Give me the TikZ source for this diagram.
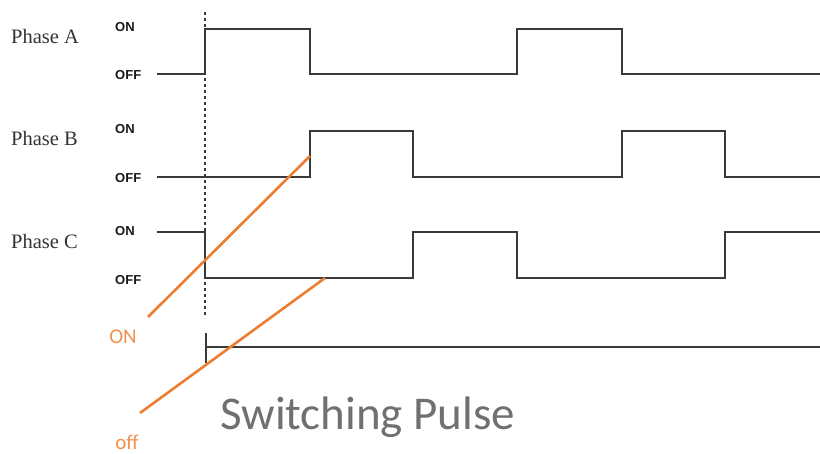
\documentclass[tikz,border=0pt]{standalone}
\usepackage{fontspec}
\setmainfont{Liberation Serif}
\newfontfamily\carl{Carlito}
\newfontfamily\lsans{Liberation Sans}
\definecolor{sig}{HTML}{3A3A3A}
\definecolor{org}{HTML}{ED7D31}
\definecolor{capg}{HTML}{707070}
\begin{document}
\begin{tikzpicture}[x=1pt,y=-1pt,
  wave/.style={draw=sig,line width=1.6pt},
  orng/.style={draw=org,line width=2.6pt},
  phlab/.style={anchor=west,inner sep=0pt,font=\fontsize{20.5}{20.5}\selectfont,text=black!80},
  lvl/.style={anchor=west,inner sep=0pt,font=\lsans\bfseries\fontsize{13}{13}\selectfont,text=black!90},
  olab/.style={inner sep=0pt,font=\carl\fontsize{21}{21}\selectfont,text=org!85}]
\useasboundingbox (0,0) rectangle (820,454);
% labels
\node[phlab] (pa) at (11,36) {Phase A};
\node[phlab] (pb) at (11,138) {Phase B};
\node[phlab] (pc) at (11,241) {Phase C};
\node[lvl] (aon) at (115,27) {ON};
\node[lvl] (aoff) at (115,75) {OFF};
\node[lvl] (bon) at (115,129) {ON};
\node[lvl] (boff) at (115,178) {OFF};
\node[lvl] (con) at (115,231) {ON};
\node[lvl] (coff) at (115,280) {OFF};
% dashed marker
\coordinate (dt) at (205,12);
\coordinate (db) at (205,318);
\draw[sig,line width=1.2pt,dash pattern=on 3pt off 3pt] (dt) -- (db);
% Phase A
\draw[wave] (157,74) -- (205,74) -- (205,29) -- (310,29) -- (310,74) -- (517,74) -- (517,29) -- (622,29) -- (622,74) -- (820,74);
% Phase B
\draw[wave] (157,177) -- (310,177) -- (310,131) -- (413,131) -- (413,177) -- (622,177) -- (622,131) -- (725,131) -- (725,177) -- (820,177);
% Phase C
\draw[wave] (157,232) -- (205,232) -- (205,278) -- (413,278) -- (413,232) -- (517,232) -- (517,278) -- (725,278) -- (725,232) -- (820,232);
% bottom pulse line
\coordinate (tt) at (206,333);
\coordinate (tb) at (206,363);
\coordinate (le) at (820,347);
\draw[sig,line width=1.2pt] (tt) -- (tb);
\draw[wave] (206,347) -- (le);
% orange pointers
\coordinate (on1) at (148,317);
\coordinate (on2) at (310,156);
\coordinate (of1) at (140,413);
\coordinate (of2) at (325,278);
\draw[orng] (on1) -- (on2);
\draw[orng] (of1) -- (of2);
\node[olab] (onl) at (123,337) {ON};
\node[olab] (offl) at (127,442) {off};
% caption
\node[anchor=base west,font=\carl\fontsize{47}{47}\selectfont,text=capg,inner sep=0pt] (cap) at (220,430) {Switching Pulse};
\end{tikzpicture}
\end{document}
